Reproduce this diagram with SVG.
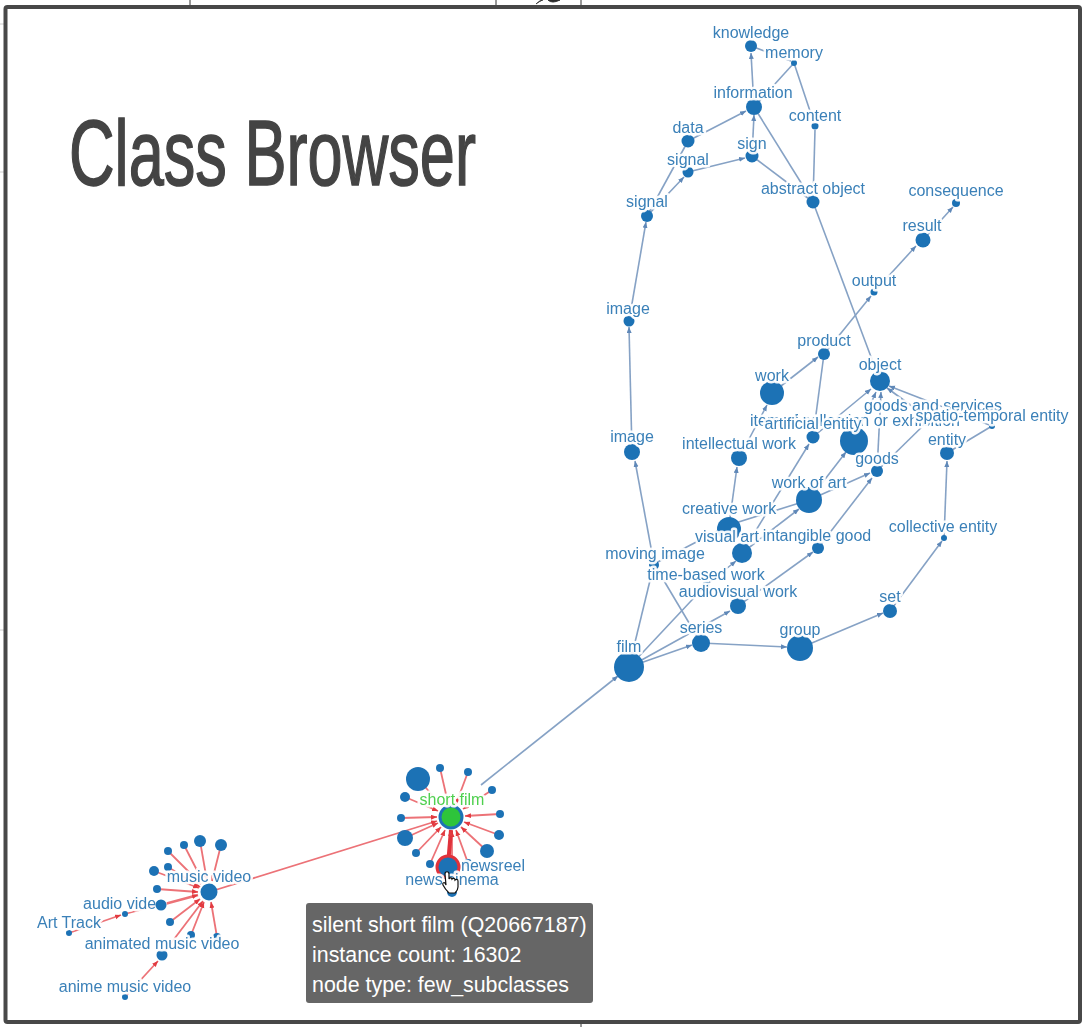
<svg xmlns="http://www.w3.org/2000/svg" width="1086" height="1027" viewBox="0 0 1086 1027">
<style>
text{font-family:"Liberation Sans",Arial,sans-serif}
.n{fill:#1f72b5}
.l{font-size:16px;fill:#3a80b8;text-anchor:middle;paint-order:stroke;stroke:#fff;stroke-width:5px;stroke-opacity:.93;stroke-linejoin:round}
.b line{stroke:#86a2c5;stroke-width:1.6;marker-end:url(#ab)}
.b line.na{marker-end:none}
.r line{stroke:#ec7277;stroke-width:1.8;marker-end:url(#ar)}
.tip{font-size:21.400px;fill:#fff}
</style>
<defs>
<marker id="ab" markerUnits="userSpaceOnUse" markerWidth="7" markerHeight="6" refX="6" refY="2.500" orient="auto"><path d="M0 0L6 2.500L0 5z" fill="#5f88b8"/></marker>
<marker id="ar" markerUnits="userSpaceOnUse" markerWidth="7" markerHeight="6" refX="6" refY="2.500" orient="auto"><path d="M0 0L6 2.500L0 5z" fill="#e23a40"/></marker>
<filter id="soft" x="-5%" y="-5%" width="110%" height="110%"><feGaussianBlur stdDeviation="0.6"/></filter>
</defs>
<rect width="1086" height="1027" fill="#fff"/>
<g id="backdrop" stroke="#333" stroke-width="1" fill="none">
<path d="M190 0V6M496 0V6M581 0V6M581 1022V1027"/>
<path d="M0 24H5M0 172H5M0 630H5" stroke="#ccc"/>
<path d="M536 4Q540 0 543 0M548 0Q552 4 560 0Z" fill="#222"/>
</g>
<rect id="frame" x="5.500" y="7" width="1074.500" height="1015" fill="#fff" stroke="#484848" stroke-width="4" rx="2"/>
<text id="title" x="69" y="185" font-size="93" fill="#444" stroke="#444" stroke-width="1.500" textLength="407" lengthAdjust="spacingAndGlyphs">Class Browser</text>
<g filter="url(#soft)">
<g id="connectors">
<g class="b">
<line x1="754" y1="107" x2="751" y2="53"/>
<line class="na" x1="751" y1="46" x2="791" y2="61"/>
<line class="na" x1="754" y1="107" x2="794" y2="63"/>
<line class="na" x1="815" y1="126" x2="794" y2="63"/>
<line class="na" x1="813" y1="202" x2="815" y2="130"/>
<line class="na" x1="813" y1="202" x2="754" y2="107"/>
<line class="na" x1="813" y1="202" x2="752" y2="156"/>
<line x1="752" y1="156" x2="754" y2="115"/>
<line x1="688" y1="141" x2="746" y2="111"/>
<line x1="688" y1="172" x2="745" y2="158"/>
<line class="na" x1="647" y1="216" x2="688" y2="141"/>
<line x1="647" y1="216" x2="684" y2="177"/>
<line x1="629" y1="321" x2="646" y2="222"/>
<line x1="632" y1="452" x2="629" y2="327"/>
<line x1="654" y1="564" x2="635" y2="461"/>
<line class="na" x1="880" y1="381" x2="813" y2="202"/>
<line x1="824" y1="354" x2="871" y2="296"/>
<line x1="874" y1="292" x2="916" y2="246"/>
<line x1="923" y1="240" x2="953" y2="207"/>
<line x1="772" y1="393" x2="818" y2="357"/>
<line class="na" x1="813" y1="437" x2="824" y2="354"/>
<line x1="813" y1="437" x2="871" y2="389"/>
<line x1="854" y1="441" x2="876" y2="392"/>
<line x1="877" y1="471" x2="881" y2="392"/>
<line x1="930" y1="419" x2="887" y2="388"/>
<line class="na" x1="877" y1="471" x2="930" y2="419"/>
<line x1="992" y1="426" x2="889" y2="386"/>
<line x1="739" y1="458" x2="767" y2="405"/>
<line x1="729" y1="525" x2="737" y2="467"/>
<line class="na" x1="729" y1="525" x2="809" y2="500"/>
<line x1="742" y1="553" x2="799" y2="509"/>
<line x1="742" y1="553" x2="809" y2="444"/>
<line x1="809" y1="500" x2="846" y2="452"/>
<line x1="809" y1="500" x2="870" y2="473"/>
<line x1="818" y1="548" x2="872" y2="478"/>
<line x1="738" y1="606" x2="813" y2="552"/>
<line x1="706" y1="585" x2="736" y2="561"/>
<line class="na" x1="654" y1="564" x2="729" y2="525"/>
<line class="na" x1="654" y1="564" x2="701" y2="643"/>
<line class="na" x1="629" y1="667" x2="654" y2="564"/>
<line class="na" x1="629" y1="667" x2="706" y2="585"/>
<line x1="629" y1="667" x2="730" y2="611"/>
<line x1="629" y1="667" x2="692" y2="645"/>
<line x1="701" y1="643" x2="787" y2="647"/>
<line x1="800" y1="648" x2="883" y2="613"/>
<line x1="890" y1="611" x2="942" y2="541"/>
<line x1="944" y1="538" x2="947" y2="461"/>
<line class="na" x1="947" y1="453" x2="992" y2="426"/>
<line x1="481" y1="785" x2="618" y2="676"/>
</g>
<g class="r">
<line x1="209" y1="892" x2="437" y2="821"/>
<line x1="418" y1="779" x2="442" y2="806"/>
<line x1="440" y1="768" x2="448" y2="803"/>
<line x1="468" y1="772" x2="456" y2="804"/>
<line x1="492" y1="790" x2="463" y2="809"/>
<line x1="405" y1="797" x2="438" y2="811"/>
<line x1="500" y1="814" x2="465" y2="816"/>
<line x1="401" y1="818" x2="437" y2="817"/>
<line x1="499" y1="835" x2="464" y2="822"/>
<line x1="405" y1="838" x2="438" y2="823"/>
<line x1="487" y1="851" x2="461" y2="827"/>
<line x1="416" y1="853" x2="441" y2="827"/>
<line x1="430" y1="864" x2="445" y2="830"/>
<line x1="468" y1="863" x2="456" y2="830"/>
<line x1="452" y1="892" x2="452" y2="831"/>
<line x1="448" y1="865" x2="451" y2="830" style="stroke:#e0303a;stroke-width:4"/>
<line x1="200" y1="841" x2="207" y2="881"/>
<line x1="221" y1="845" x2="212" y2="881"/>
<line x1="184" y1="845" x2="203" y2="882"/>
<line x1="168" y1="851" x2="201" y2="884"/>
<line x1="168" y1="867" x2="200" y2="887"/>
<line x1="154" y1="871" x2="199" y2="888"/>
<line x1="157" y1="889" x2="198" y2="892"/>
<line x1="161" y1="905" x2="198" y2="895" style="stroke-width:2.400"/>
<line x1="170" y1="922" x2="200" y2="899"/>
<line x1="191" y1="935" x2="204" y2="902"/>
<line x1="217" y1="937" x2="211" y2="902"/>
<line x1="162" y1="955" x2="203" y2="901"/>
<line x1="69" y1="933" x2="121" y2="915"/>
<line x1="125" y1="914" x2="155" y2="906"/>
<line x1="125" y1="997" x2="158" y2="961"/>
</g>
</g>
<g id="n-knowledge"><circle class="n" cx="751" cy="46" r="6"/><text class="l" x="751" y="38">knowledge</text></g>
<g id="n-memory"><circle class="n" cx="794" cy="63" r="3"/><text class="l" x="794" y="58">memory</text></g>
<g id="n-information"><circle class="n" cx="754" cy="107" r="8"/><text class="l" x="753" y="98">information</text></g>
<g id="n-content"><circle class="n" cx="815" cy="126" r="3.500"/><text class="l" x="815" y="121">content</text></g>
<g id="n-data"><circle class="n" cx="688" cy="141" r="6.500"/><text class="l" x="688" y="133">data</text></g>
<g id="n-sign"><circle class="n" cx="752" cy="156" r="6.500"/><text class="l" x="752" y="149">sign</text></g>
<g id="n-signal2"><circle class="n" cx="688" cy="172" r="5.500"/><text class="l" x="688" y="165">signal</text></g>
<g id="n-abstract"><circle class="n" cx="813" cy="202" r="6.500"/><text class="l" x="813" y="194">abstract object</text></g>
<g id="n-signal1"><circle class="n" cx="647" cy="216" r="6"/><text class="l" x="647" y="207">signal</text></g>
<g id="n-consequence"><circle class="n" cx="956" cy="203" r="4"/><text class="l" x="956" y="196">consequence</text></g>
<g id="n-result"><circle class="n" cx="923" cy="240" r="7.500"/><text class="l" x="922" y="231">result</text></g>
<g id="n-output"><circle class="n" cx="874" cy="292" r="3.500"/><text class="l" x="874" y="286">output</text></g>
<g id="n-image1"><circle class="n" cx="629" cy="321" r="5.500"/><text class="l" x="628" y="314">image</text></g>
<g id="n-product"><circle class="n" cx="824" cy="354" r="6"/><text class="l" x="824" y="346">product</text></g>
<g id="n-object"><circle class="n" cx="880" cy="381" r="10"/><text class="l" x="880" y="370">object</text></g>
<g id="n-work"><circle class="n" cx="772" cy="393" r="12"/><text class="l" x="772" y="381">work</text></g>
<g id="n-goods-services"><text class="l" x="933" y="411">goods and services</text></g>
<g id="n-item"><circle class="n" cx="854" cy="441" r="14"/><text class="l" x="855" y="426">item of collection or exhibition</text></g>
<g id="n-spatio"><circle class="n" cx="992" cy="426" r="3"/><text class="l" x="992" y="421">spatio-temporal entity</text></g>
<g id="n-artificial"><circle class="n" cx="813" cy="437" r="6.500"/><text class="l" x="813" y="429">artificial entity</text></g>
<g id="n-entity"><circle class="n" cx="947" cy="453" r="7"/><text class="l" x="947" y="445">entity</text></g>
<g id="n-goods"><circle class="n" cx="877" cy="471" r="6"/><text class="l" x="877" y="464">goods</text></g>
<g id="n-intellectual"><circle class="n" cx="739" cy="458" r="8"/><text class="l" x="739" y="449">intellectual work</text></g>
<g id="n-image2"><circle class="n" cx="632" cy="452" r="8"/><text class="l" x="632" y="442">image</text></g>
<g id="n-art"><circle class="n" cx="809" cy="500" r="13"/><text class="l" x="809" y="488">work of art</text></g>
<g id="n-creative"><circle class="n" cx="729" cy="529" r="12"/><text class="l" x="729" y="514">creative work</text></g>
<g id="n-visual"><circle class="n" cx="742" cy="553" r="10"/><text class="l" x="727" y="542">visual art</text></g>
<g id="n-intangible"><circle class="n" cx="818" cy="548" r="6"/><text class="l" x="817" y="541">intangible good</text></g>
<g id="n-collective"><circle class="n" cx="944" cy="538" r="3"/><text class="l" x="943" y="532">collective entity</text></g>
<g id="n-moving"><circle class="n" cx="654" cy="565" r="5"/><text class="l" x="655" y="559">moving image</text></g>
<g id="n-timebased"><circle class="n" cx="706" cy="585" r="3.500"/><text class="l" x="706" y="580">time-based work</text></g>
<g id="n-audiovisual"><circle class="n" cx="738" cy="606" r="8"/><text class="l" x="738" y="597">audiovisual work</text></g>
<g id="n-set"><circle class="n" cx="890" cy="611" r="7"/><text class="l" x="890" y="602">set</text></g>
<g id="n-series"><circle class="n" cx="701" cy="643" r="9"/><text class="l" x="701" y="633">series</text></g>
<g id="n-group"><circle class="n" cx="800" cy="648" r="13"/><text class="l" x="800" y="635">group</text></g>
<g id="n-film"><circle class="n" cx="629" cy="667" r="15"/><text class="l" x="629" y="652">film</text></g>
<g id="n-sat"><circle class="n" cx="418" cy="779" r="12"/><circle class="n" cx="440" cy="768" r="4"/><circle class="n" cx="468" cy="772" r="4"/><circle class="n" cx="492" cy="790" r="4"/><circle class="n" cx="405" cy="797" r="5"/><circle class="n" cx="500" cy="814" r="4"/><circle class="n" cx="401" cy="818" r="4"/><circle class="n" cx="499" cy="835" r="5"/><circle class="n" cx="405" cy="838" r="8"/><circle class="n" cx="487" cy="851" r="7"/><circle class="n" cx="416" cy="853" r="4"/><circle class="n" cx="430" cy="864" r="4"/><circle class="n" cx="468" cy="863" r="4"/><circle class="n" cx="452" cy="892" r="5"/></g>
<g id="n-shortfilm"><circle cx="451" cy="817" r="11" fill="#2fc43a" stroke="#1f72b5" stroke-width="3"/><text class="l" x="452" y="805" style="fill:#4fd04f">short film</text></g>
<g id="n-newsreel"><text class="l" x="493" y="871">newsreel</text></g>
<g id="n-newscinema"><circle class="n" cx="448" cy="867" r="11" stroke="#e0303a" stroke-width="3"/><text class="l" x="452" y="885">news cinema</text></g>
<g id="n-sat2"><circle class="n" cx="200" cy="841" r="6"/><circle class="n" cx="221" cy="845" r="6"/><circle class="n" cx="184" cy="845" r="4"/><circle class="n" cx="168" cy="851" r="4"/><circle class="n" cx="168" cy="867" r="4"/><circle class="n" cx="154" cy="871" r="5"/><circle class="n" cx="157" cy="889" r="4"/><circle class="n" cx="170" cy="922" r="4"/><circle class="n" cx="191" cy="935" r="4"/><circle class="n" cx="217" cy="937" r="4"/></g>
<g id="n-music"><circle class="n" cx="209" cy="892" r="8.500"/><text class="l" x="209" y="882">music video</text></g>
<g id="n-audio"><circle class="n" cx="125" cy="914" r="3"/><text class="l" x="124" y="909">audio video</text></g>
<g id="n-audio2"><circle class="n" cx="161" cy="905" r="5.500"/></g>
<g id="n-art-track"><circle class="n" cx="69" cy="933" r="3"/><text class="l" x="69" y="928">Art Track</text></g>
<g id="n-animated"><circle class="n" cx="162" cy="955" r="5.500"/><text class="l" x="162" y="949">animated music video</text></g>
<g id="n-anime"><circle class="n" cx="125" cy="997" r="3"/><text class="l" x="125" y="992">anime music video</text></g>
</g>
<path id="cursor" d="M445 874c0-3 4-3 4 0v5c1-2 3-1 3 0 1-1 3-1 3 1 1-1 3-1 3 1v6c0 3-2 5-3 6h-6c-2-2-5-6-6-8-1-2 1-3 2-2l1 2z" fill="#fff" stroke="#111" stroke-width="1.200"/>
<g id="tooltip">
<rect x="306" y="903" width="287" height="100" rx="3" fill="#666"/>
<text class="tip" x="312" y="932">silent short film (Q20667187)</text>
<text class="tip" x="312" y="962">instance count: 16302</text>
<text class="tip" x="312" y="992">node type: few_subclasses</text>
</g>
</svg>
